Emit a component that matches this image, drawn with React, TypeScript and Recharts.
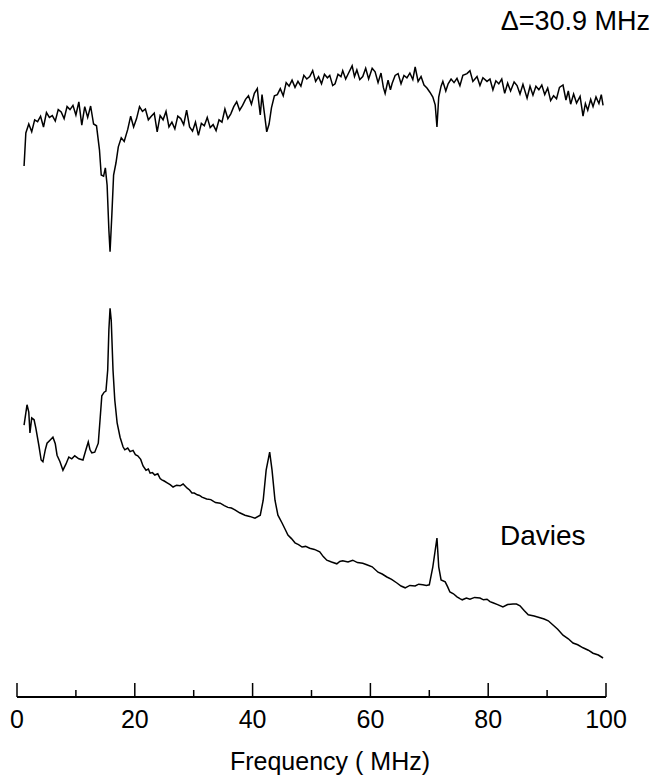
import React from "react";
import { LineChart, Line, XAxis, YAxis } from "recharts";

// Upper trace (arbitrary intensity units), frequency in MHz
const topFreq = [
  1.2, 1.5, 2.0, 2.5, 3.0, 3.5, 4.0, 4.5, 5.0, 5.5, 6.0, 6.5, 7.0, 7.5, 8.0, 8.5, 9.0, 9.5, 10.0, 10.5,
  11.0, 11.5, 12.0, 12.5, 13.0, 13.5, 14.0, 14.3, 14.7, 15.0, 15.3, 15.6, 15.8, 16.1, 16.4, 16.8, 17.2, 17.7, 18.2, 18.8,
  19.3, 19.8, 20.3, 20.8, 21.3, 21.8, 22.3, 22.8, 23.3, 23.8, 24.3, 24.8, 25.3, 25.8, 26.3, 26.8, 27.3, 27.8, 28.3, 28.8,
  29.3, 29.8, 30.3, 30.8, 31.3, 31.8, 32.3, 32.8, 33.3, 33.8, 34.3, 34.8, 35.3, 35.8, 36.3, 36.8, 37.3, 37.8, 38.3, 38.8,
  39.3, 39.8, 40.3, 40.8, 41.0, 41.3, 41.6, 42.0, 42.4, 42.8, 43.2, 43.7, 44.2, 44.7, 45.2, 45.7, 46.2, 46.7, 47.2, 47.7,
  48.2, 48.7, 49.2, 49.7, 50.2, 50.7, 51.2, 51.7, 52.2, 52.7, 53.1, 53.6, 54.0, 54.5, 55.0, 55.3, 55.8, 56.3, 56.9, 57.3,
  57.7, 58.2, 58.7, 59.2, 59.7, 60.3, 60.8, 61.3, 61.8, 62.2, 62.5, 63.0, 63.4, 63.7, 64.2, 64.7, 65.2, 65.7, 66.2, 66.7,
  67.2, 67.6, 68.1, 68.6, 69.1, 69.6, 70.1, 70.6, 71.0, 71.3, 71.6, 72.0, 72.3, 72.8, 73.2, 73.7, 74.2, 74.7, 75.2, 75.7,
  76.4, 76.9, 77.4, 78.1, 78.6, 79.1, 79.8, 80.3, 80.8, 81.3, 81.8, 82.3, 82.8, 83.3, 83.8, 84.4, 84.9, 85.4, 85.9, 86.6,
  87.1, 87.6, 88.1, 88.6, 89.1, 89.6, 90.1, 90.6, 91.1, 91.6, 92.1, 92.7, 93.2, 93.6, 94.0, 94.5, 95.0, 95.6, 96.1, 96.5,
  96.9, 97.4, 97.8, 98.3, 98.8, 99.2, 99.5,
];
const topSignal = [
  88.5, 94.0, 95.5, 94.2, 96.2, 95.9, 96.8, 95.0, 97.4, 96.6, 96.9, 96.0, 97.9, 97.5, 96.4, 98.4, 97.9, 98.6, 97.0, 99.2,
  95.3, 98.4, 96.6, 98.5, 95.5, 95.2, 91.2, 87.0, 86.8, 88.2, 85.3, 77.8, 74.2, 80.3, 87.0, 89.0, 91.7, 93.2, 92.6, 94.6,
  96.8, 95.0, 96.4, 98.4, 97.6, 98.0, 96.2, 96.8, 97.3, 94.2, 96.9, 96.2, 97.6, 95.0, 95.8, 94.7, 96.8, 96.4, 95.4, 97.8,
  95.0, 94.3, 95.8, 93.6, 95.6, 95.2, 96.6, 94.9, 95.4, 94.4, 96.2, 95.8, 98.0, 96.4, 97.2, 98.4, 99.2, 97.8, 98.6, 99.6,
  100.2, 98.8, 100.6, 101.4, 99.5, 97.0, 100.4, 97.3, 94.2, 95.5, 98.2, 100.2, 100.4, 101.4, 100.2, 102.4, 101.8, 102.8, 101.6, 102.6,
  101.8, 103.6, 103.0, 103.4, 104.4, 102.6, 103.4, 102.2, 103.8, 103.2, 103.6, 101.9, 102.2, 103.8, 103.4, 104.4, 103.0, 104.0, 105.2, 103.4,
  104.5, 102.9, 103.4, 104.8, 103.0, 104.8, 104.2, 102.4, 104.0, 101.6, 100.6, 102.8, 101.2, 102.3, 103.6, 103.9, 102.2, 103.6, 103.2, 104.0,
  102.9, 105.0, 102.6, 103.4, 102.0, 101.5, 100.8, 100.0, 98.7, 95.0, 100.0, 101.8, 102.6, 101.0, 102.2, 103.0, 102.4, 103.1, 101.9, 103.6,
  103.9, 104.4, 102.6, 103.4, 101.9, 103.2, 102.6, 103.0, 101.2, 102.7, 102.2, 103.0, 100.6, 102.3, 101.0, 102.5, 101.9, 100.5, 102.1, 99.8,
  101.8, 100.3, 101.8, 101.2, 102.0, 100.4, 101.5, 99.4, 100.2, 99.7, 101.6, 102.0, 99.5, 101.0, 98.8, 100.5, 99.0, 100.1, 96.8, 98.9,
  97.8, 99.6, 98.4, 100.0, 98.9, 100.4, 98.6,
];

// Lower trace ("Davies")
const davFreq = [
  1.2, 1.7, 2.0, 2.2, 2.5, 2.9, 3.2, 3.7, 4.1, 4.4,
  4.8, 5.1, 5.6, 6.1, 6.5, 6.8, 7.3, 7.8, 8.3, 8.8,
  9.3, 9.8, 10.5, 11.2, 11.7, 12.1, 12.4, 12.7, 13.2, 13.8,
  14.1, 14.4, 14.8, 15.1, 15.4, 15.6, 15.8, 16.0, 16.3, 16.6,
  17.0, 17.5, 18.0, 18.3, 18.8, 19.2, 19.7, 20.1, 20.5, 21.0,
  21.4, 21.9, 22.3, 22.6, 23.0, 23.4, 23.9, 24.3, 24.6, 25.0,
  25.5, 26.0, 26.5, 27.1, 27.7, 28.2, 28.9, 29.3, 29.7, 30.1,
  30.6, 31.0, 31.4, 32.2, 32.9, 33.7, 34.5, 35.2, 35.8, 36.4,
  37.0, 37.8, 38.7, 39.5, 40.4, 41.3, 41.8, 42.3, 42.9, 43.3,
  43.8, 44.3, 45.0, 45.5, 46.0, 46.6, 47.2, 47.8, 48.4, 49.0,
  49.7, 50.5, 51.4, 52.0, 52.6, 53.4, 54.3, 54.8, 55.3, 56.2,
  57.0, 57.8, 58.7, 59.5, 60.3, 61.3, 62.0, 62.8, 63.6, 64.5,
  65.2, 65.9, 66.7, 67.6, 68.2, 68.9, 69.5, 70.0, 70.6, 71.3,
  71.6, 72.0, 72.7, 73.1, 73.5, 74.1, 74.7, 75.2, 75.6, 76.3,
  76.9, 77.7, 78.6, 79.2, 79.8, 80.3, 80.8, 81.6, 82.5, 83.3,
  84.2, 84.8, 85.4, 86.1, 86.8, 87.8, 88.8, 89.5, 90.2, 91.0,
  91.8, 92.7, 93.6, 94.4, 95.2, 96.1, 97.0, 97.8, 98.7, 99.5,
];
const davSignal = [
  45.3, 48.7, 47.5, 44.0, 46.5, 46.2, 44.8, 42.0, 39.5, 39.2,
  41.2, 42.3, 42.8, 43.3, 42.2, 40.3, 39.2, 37.8, 38.8, 40.0,
  39.7, 40.2, 39.7, 39.5, 41.2, 42.5, 41.2, 40.7, 40.8, 42.3,
  46.2, 50.2, 50.8, 51.0, 54.5, 61.2, 64.8, 62.8, 54.5, 49.5,
  45.7, 43.3, 41.7, 41.2, 41.5, 40.9, 41.1, 40.4, 40.2, 39.6,
  38.5, 37.8, 38.0, 37.3, 37.4, 37.0, 37.2, 36.4, 36.2, 36.0,
  35.7, 35.4, 35.0, 35.3, 35.2, 35.5, 34.8, 34.5, 34.0, 34.0,
  33.7, 33.6, 33.3, 33.0, 32.9, 32.4, 32.3, 31.9, 31.6, 31.5,
  31.2, 30.7, 30.3, 30.1, 29.8, 30.3, 32.8, 37.8, 40.8, 37.8,
  32.8, 30.3, 29.0, 28.0, 27.0, 26.4, 25.7, 25.4, 25.0, 25.1,
  24.8, 24.6, 24.2, 23.4, 22.8, 22.5, 22.2, 22.6, 22.7, 22.5,
  22.8, 22.4, 22.3, 22.0, 21.7, 20.8, 20.5, 20.0, 19.6, 19.0,
  18.5, 18.2, 18.6, 18.5, 18.8, 18.7, 18.6, 18.7, 21.7, 26.5,
  21.7, 19.5, 19.2, 18.4, 17.5, 17.2, 16.7, 16.4, 16.2, 16.5,
  16.3, 16.6, 16.5, 16.2, 16.3, 15.9, 15.7, 15.4, 15.0, 15.4,
  15.5, 15.5, 15.2, 14.4, 13.7, 13.5, 13.2, 13.0, 12.7, 12.0,
  11.3, 10.3, 9.7, 9.0, 8.7, 8.2, 7.8, 7.3, 7.0, 6.5,
];

const xTicks = [0, 10, 20, 30, 40, 50, 60, 70, 80, 90, 100];
const xLabels = ["0", "", "20", "", "40", "", "60", "", "80", "", "100"];

const topData = topFreq.map((f, i) => ({ f, v: topSignal[i] }));
const davData = davFreq.map((f, i) => ({ f, v: davSignal[i] }));

const FONT = "'Liberation Sans', Arial, Helvetica, sans-serif";

const Tick = (props: any) => {
  const { x, y, payload } = props;
  const idx = xTicks.indexOf(payload.value);
  const major = idx % 2 === 0;
  const label = xLabels[idx] ?? "";
  return (
    <g>
      <line x1={x} y1={y} x2={x} y2={y - (major ? 14 : 7)} stroke="#000" strokeWidth={1.5} />
      {label && (
        <text x={x} y={y + 31} textAnchor="middle" fontFamily={FONT} fontSize={25} fill="#000">
          {label}
        </text>
      )}
    </g>
  );
};

export default function App() {
  return (
    <div style={{ position: "absolute", left: 0, top: 0, width: 651, height: 777, background: "#fff" }}>
      <LineChart
        width={651}
        height={777}
        margin={{ top: 37, right: 45, bottom: 30, left: 17 }}
      >
        <XAxis
          type="number"
          dataKey="f"
          domain={[0, 100]}
          ticks={xTicks}
          tickSize={0}
          tickMargin={0}
          tickLine={false}
          interval={0}
          height={50}
          axisLine={{ stroke: "#000", strokeWidth: 2 }}
          tick={<Tick />}
          allowDataOverflow
        />
        <YAxis hide type="number" domain={[0, 110]} />
        <Line data={topData} dataKey="v" type="linear" stroke="#000" strokeWidth={1.5} dot={false} isAnimationActive={false} />
        <Line data={davData} dataKey="v" type="linear" stroke="#000" strokeWidth={1.5} dot={false} isAnimationActive={false} />
      </LineChart>
      <svg width={651} height={777} style={{ position: "absolute", left: 0, top: 0, pointerEvents: "none" }}>
        <text x={650} y={30} textAnchor="end" fontFamily={FONT} fontSize={27} fill="#000">
          Δ=30.9 MHz
        </text>
        <text x={500} y={545} fontFamily={FONT} fontSize={28} fill="#000">
          Davies
        </text>
        <text x={330} y={770} textAnchor="middle" fontFamily={FONT} fontSize={25} fill="#000">
          Frequency ( MHz)
        </text>
      </svg>
    </div>
  );
}
